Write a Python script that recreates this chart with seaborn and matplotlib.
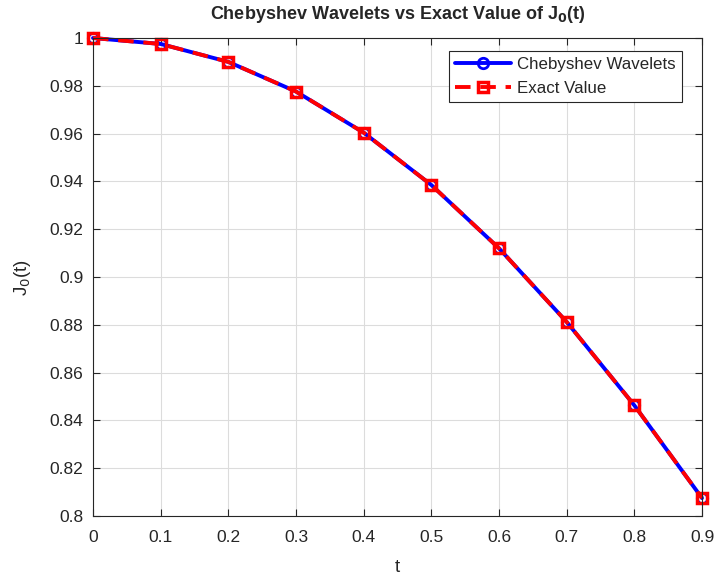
import matplotlib
matplotlib.use("Agg")
import matplotlib.pyplot as plt
import seaborn as sns
import pandas as pd

t = [0, 0.1, 0.2, 0.3, 0.4, 0.5, 0.6, 0.7, 0.8, 0.9]
chebyshev = [1.0, 0.9975, 0.9900, 0.9776, 0.9604, 0.9385, 0.9120, 0.8812, 0.8463, 0.8075]
exact = [1.0, 0.9975, 0.9900, 0.9776, 0.9604, 0.9385, 0.9120, 0.8812, 0.8463, 0.8075]

sns.set_style("ticks")
plt.rcParams['font.family'] = ['Liberation Sans', 'DejaVu Sans']

fig = plt.figure(figsize=(7.16, 5.79), dpi=100)
ax = fig.add_axes([93/716, 1 - 516/579, (702 - 93)/716, (516 - 38)/579])

df1 = pd.DataFrame({"t": t, "v": chebyshev})
df2 = pd.DataFrame({"t": t, "v": exact})
sns.lineplot(data=df1, x="t", y="v", ax=ax, color="#0000ff", linewidth=2.8,
             marker="o", markersize=7.5, markerfacecolor="none", markeredgecolor="#0000ff",
             markeredgewidth=2, label="Chebyshev Wavelets", clip_on=False)
sns.lineplot(data=df2, x="t", y="v", ax=ax, color="#ff0000", linewidth=2.8, linestyle=(0, (4, 2.5)),
             marker="s", markersize=7, markerfacecolor="none", markeredgecolor="#ff0000",
             markeredgewidth=2.5, label="Exact Value", clip_on=False)

ax.set_xlim(0, 0.9)
ax.set_ylim(0.8, 1.0)
ax.set_xticks([0, 0.1, 0.2, 0.3, 0.4, 0.5, 0.6, 0.7, 0.8, 0.9])
ax.set_xticklabels(["0", "0.1", "0.2", "0.3", "0.4", "0.5", "0.6", "0.7", "0.8", "0.9"])
yt = [0.8, 0.82, 0.84, 0.86, 0.88, 0.9, 0.92, 0.94, 0.96, 0.98, 1.0]
ax.set_yticks(yt)
ax.set_yticklabels(["0.8", "0.82", "0.84", "0.86", "0.88", "0.9", "0.92", "0.94", "0.96", "0.98", "1"])
ax.grid(True, color="#dcdcdc", linewidth=0.8)
ax.set_axisbelow(True)
for s in ax.spines.values():
    s.set_visible(True)
    s.set_color("#262626")
    s.set_linewidth(0.8)
ax.tick_params(direction="in", length=5, width=0.8, colors="#262626", labelsize=12.5,
               top=True, right=True, labelcolor="#262626")
ax.tick_params(axis="x", pad=10)
ax.tick_params(axis="y", pad=7)
ax.set_xlabel("t", fontsize=13.5, color="#262626", labelpad=10)
ax.set_ylabel("J$_0$(t)", fontsize=13.5, color="#262626", labelpad=12)
ax.set_title("Chebyshev Wavelets vs Exact Value of J$_\\mathbf{0}$(t)", fontsize=13, fontweight="bold", pad=14)

leg = ax.legend(loc="upper right", bbox_to_anchor=(0.981, 0.99), fontsize=12.2, frameon=True,
                fancybox=False, edgecolor="#262626", framealpha=1, handlelength=3.3,
                borderpad=0.35, labelspacing=0.5, handletextpad=0.4)
leg.get_frame().set_linewidth(0.8)

fig.savefig("out.png", dpi=100)
